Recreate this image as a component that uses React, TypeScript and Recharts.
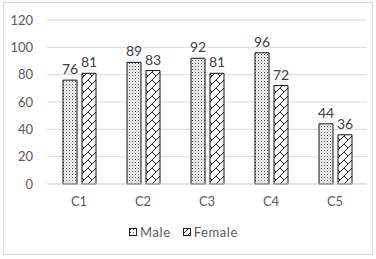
import React from 'react';
import { BarChart, Bar, XAxis, YAxis, CartesianGrid, Legend, LabelList } from 'recharts';

const categories = ['C1', 'C2', 'C3', 'C4', 'C5'];
const maleValues = [76, 89, 92, 96, 44];
const femaleValues = [81, 83, 81, 72, 36];
const yTicks = [0, 20, 40, 60, 80, 100, 120];

const data = categories.map((name, i) => ({ name, Male: maleValues[i], Female: femaleValues[i] }));

const FONT = 'Lato, "Open Sans", sans-serif';
const TEXT = '#595959';

const Patterns = () => (
  <defs>
    <pattern id="dots" patternUnits="userSpaceOnUse" width="3" height="3">
      <rect width="3" height="3" fill="#ffffff" />
      <rect x="0" y="0" width="1" height="1" fill="#444" />
      <rect x="1.5" y="1.5" width="1" height="1" fill="#777" />
    </pattern>
    <pattern id="brick" patternUnits="userSpaceOnUse" width="8" height="8">
      <rect width="8" height="8" fill="#ffffff" />
      <path d="M-1,9 L9,-1" stroke="#222" strokeWidth="1" />
      <path d="M0,0 L4,4" stroke="#222" strokeWidth="1" />
      <path d="M8,8 L12,12" stroke="#222" strokeWidth="1" />
    </pattern>
  </defs>
);

const LegendContent = () => (
  <div style={{ display: 'flex', justifyContent: 'center', alignItems: 'center', fontFamily: FONT, fontSize: 13, color: TEXT, height: 20 }}>
    {[{ n: 'Male', p: 'dots' }, { n: 'Female', p: 'brick' }].map((it) => (
      <span key={it.n} style={{ display: 'inline-flex', alignItems: 'center', margin: '0 6px' }}>
        <svg width="8" height="8" style={{ marginRight: 3 }}>
          <defs>
            <pattern id={'lg' + it.p} patternUnits="userSpaceOnUse" width={it.p === 'dots' ? 3 : 6} height={it.p === 'dots' ? 3 : 6}>
              {it.p === 'dots' ? (
                <rect x="1" y="1" width="1" height="1" fill="#444" />
              ) : (
                <path d="M-1,7 L7,-1" stroke="#222" strokeWidth="1" />
              )}
            </pattern>
          </defs>
          <rect x="0.5" y="0.5" width="7" height="7" fill={'url(#lg' + it.p + ')'} stroke="#222" />
        </svg>
        <span style={{ letterSpacing: 0.6 }}>{it.n}</span>
      </span>
    ))}
  </div>
);

export default function App() {
  return (
    <div style={{ position: 'absolute', left: 0, top: 0, width: 376, height: 259, background: '#fff' }}>
      <BarChart
        width={376}
        height={259}
        data={data}
        margin={{ top: 20, right: 9, left: 0, bottom: 17 }}
        barSize={14}
        barGap={5}
      >
        <Patterns />
        <CartesianGrid vertical={false} stroke="#d9d9d9" />
        <XAxis
          dataKey="name"
          height={38}
          tickLine={false}
          axisLine={{ stroke: '#d9d9d9' }}
          tickSize={0}
          tickMargin={13}
          tick={{ fill: TEXT, fontSize: 13, fontFamily: FONT }}
        />
        <YAxis
          width={47}
          domain={[0, 120]}
          ticks={yTicks}
          tickLine={false}
          axisLine={false}
          tickSize={0}
          tickMargin={14}
          tick={{ fill: TEXT, fontSize: 13, fontFamily: FONT }}
        />
        <Legend verticalAlign="bottom" height={20} content={<LegendContent />} />
        <Bar dataKey="Male" fill="url(#dots)" stroke="#111" strokeWidth={1} isAnimationActive={false}>
          <LabelList dataKey="Male" position="top" offset={6} fill="#404040" fontSize={14} fontFamily={FONT} />
        </Bar>
        <Bar dataKey="Female" fill="url(#brick)" stroke="#111" strokeWidth={1} isAnimationActive={false}>
          <LabelList dataKey="Female" position="top" offset={6} fill="#404040" fontSize={14} fontFamily={FONT} />
        </Bar>
      </BarChart>
      <div style={{ position: 'absolute', left: 3, top: 2, width: 368, height: 251, border: '1px solid #d9d9d9', pointerEvents: 'none' }} />
    </div>
  );
}
